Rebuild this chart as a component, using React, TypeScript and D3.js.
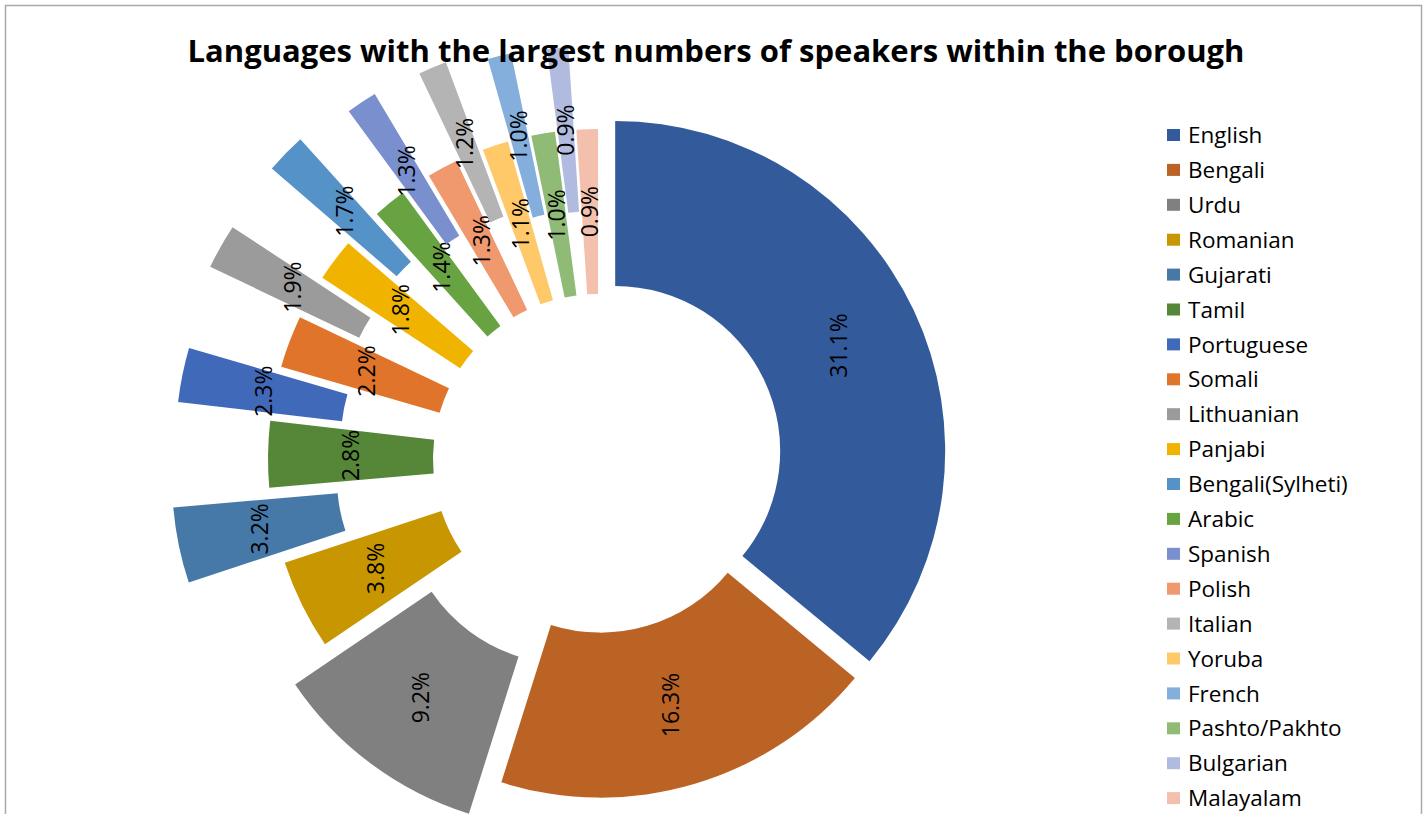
import { useEffect, useRef } from "react";
import * as d3 from "d3";

const languages = [
  "English",
  "Bengali",
  "Urdu",
  "Romanian",
  "Gujarati",
  "Tamil",
  "Portuguese",
  "Somali",
  "Lithuanian",
  "Panjabi",
  "Bengali(Sylheti)",
  "Arabic",
  "Spanish",
  "Polish",
  "Italian",
  "Yoruba",
  "French",
  "Pashto/Pakhto",
  "Bulgarian",
  "Malayalam",
];

// percent of borough residents speaking each language
const shares = [31.1, 16.3, 9.2, 3.8, 3.2, 2.8, 2.3, 2.2, 1.9, 1.8, 1.7, 1.4, 1.3, 1.3, 1.2, 1.1, 1.0, 1.0, 0.9, 0.9];

const sliceColors = [
  "#335a9b", "#bb6325", "#808080", "#c89600", "#4679a8", "#568638",
  "#4169b9", "#e0742a", "#9b9b9b", "#f0b400", "#5592c8", "#68a342",
  "#7a8fce", "#f0986e", "#b4b4b4", "#ffc96a", "#84afdc", "#90bb76",
  "#b1bbdf", "#f4c0ae",
];

// how far each slice is pulled out of the ring (px)
const explodeBy: Record<string, number> = {
  English: 19,
  Bengali: 9,
  Urdu: 50,
  Gujarati: 98,
  Portuguese: 94,
  Lithuanian: 103,
  "Bengali(Sylheti)": 107,
  Spanish: 98,
  Italian: 95,
  French: 85,
  Bulgarian: 83,
};

const W = 1426;
const H = 814;

export default function App() {
  const svgRef = useRef<SVGSVGElement>(null);

  useEffect(() => {
    if (!svgRef.current) return;
    const svg = d3.select(svgRef.current);
    svg.selectAll("*").remove();

    const cx = 598;
    const cy = 459;
    const outerR = 330;
    const innerR = 165;

    svg
      .append("rect")
      .attr("x", 5.5)
      .attr("y", 5.5)
      .attr("width", 1416)
      .attr("height", 900)
      .attr("fill", "#fff")
      .attr("stroke", "#a9a9a9")
      .attr("stroke-width", 1.5);

    const data = languages.map((name, i) => ({ name, value: shares[i], color: sliceColors[i] }));

    const pie = d3
      .pie<{ name: string; value: number; color: string }>()
      .sort(null)
      .value(d => d.value);
    const arcs = pie(data);
    const arc = d3
      .arc<d3.PieArcDatum<{ name: string; value: number; color: string }>>()
      .innerRadius(innerR)
      .outerRadius(outerR);

    const shift = (a: d3.PieArcDatum<{ name: string }>) => {
      const mid = (a.startAngle + a.endAngle) / 2;
      const e = explodeBy[a.data.name] ?? 0;
      return [cx + e * Math.sin(mid), cy - e * Math.cos(mid)];
    };

    const slices = svg
      .append("g")
      .selectAll("g")
      .data(arcs)
      .enter()
      .append("g")
      .attr("transform", d => {
        const [x, y] = shift(d);
        return `translate(${x},${y})`;
      });

    slices
      .append("path")
      .attr("d", d => arc(d) as string)
      .attr("fill", d => d.data.color);

    slices
      .append("text")
      .attr("transform", d => {
        const [x, y] = arc.centroid(d);
        return `translate(${x},${y}) rotate(-90)`;
      })
      .attr("text-anchor", "middle")
      .attr("dy", "0.36em")
      .attr("font-family", "'Open Sans', sans-serif")
      .attr("font-size", 23)
      .attr("fill", "#000")
      .text(d => `${d.data.value.toFixed(1)}%`);

    svg
      .append("text")
      .attr("x", 716)
      .attr("y", 62)
      .attr("text-anchor", "middle")
      .attr("font-family", "'Open Sans', sans-serif")
      .attr("font-weight", "bold")
      .attr("font-size", 31)
      .attr("fill", "#000")
      .text("Languages with the largest numbers of speakers within the borough");

    const legend = svg
      .append("g")
      .selectAll("g")
      .data(data)
      .enter()
      .append("g")
      .attr("transform", (_, i) => `translate(1167,${135 + i * 34.9})`);
    legend
      .append("rect")
      .attr("x", 0)
      .attr("y", -6)
      .attr("width", 13)
      .attr("height", 12)
      .attr("fill", d => d.color);
    legend
      .append("text")
      .attr("x", 21)
      .attr("dy", "0.36em")
      .attr("font-family", "'Open Sans', sans-serif")
      .attr("font-size", 22.5)
      .attr("fill", "#000")
      .text(d => d.name);
  }, []);

  return (
    <svg
      ref={svgRef}
      width={W}
      height={H}
      style={{ position: "absolute", left: 0, top: 0, display: "block" }}
    />
  );
}
